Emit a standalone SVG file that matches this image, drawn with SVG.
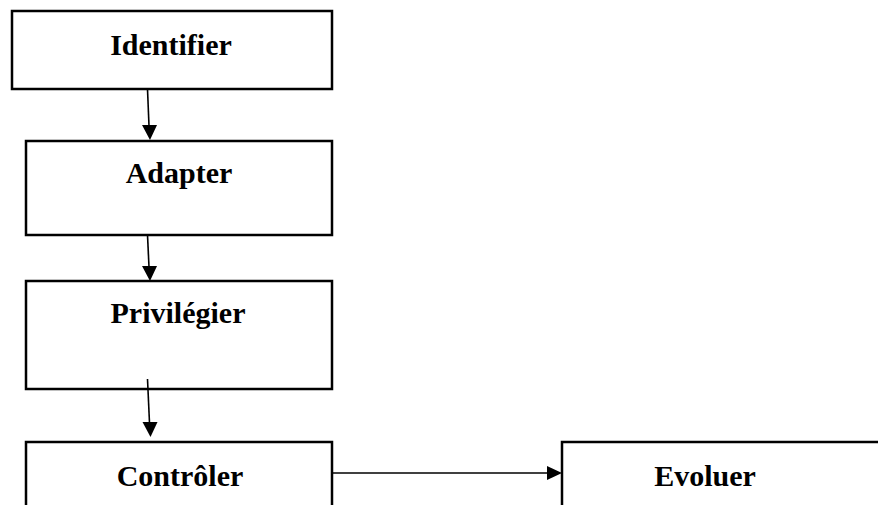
<svg xmlns="http://www.w3.org/2000/svg" width="878" height="505" viewBox="0 0 878 505">
<style>
.box{fill:#fff;stroke:#000;stroke-width:2.5}
.lbl{font-family:"Liberation Serif","Times New Roman",serif;font-weight:bold;font-size:30px;fill:#000;text-anchor:middle}
.conn{stroke:#000;stroke-width:1.6;fill:none}
.head{fill:#000}
</style>
<rect width="878" height="505" fill="#fff"/>
<g id="identifier"><rect class="box" x="12" y="11" width="320" height="78"/><text class="lbl" x="171" y="55">Identifier</text></g>
<g id="adapter"><rect class="box" x="26" y="141" width="306" height="94"/><text class="lbl" x="179" y="183">Adapter</text></g>
<g id="privilegier"><rect class="box" x="26" y="281" width="306" height="108"/><text class="lbl" x="178" y="323">Privilégier</text></g>
<g id="controler"><rect class="box" x="26" y="442" width="306" height="80"/><text class="lbl" x="180" y="486">Contrôler</text></g>
<g id="evoluer"><rect class="box" x="562" y="442" width="340" height="80"/><text class="lbl" x="705" y="486">Evoluer</text></g>
<g id="connectors">
<line class="conn" x1="147.5" y1="89" x2="149" y2="126"/><polygon class="head" points="142,125 157,125 150,140"/>
<line class="conn" x1="147.5" y1="235" x2="149" y2="267"/><polygon class="head" points="142,266 157,266 150,281"/>
<line class="conn" x1="147.5" y1="379" x2="149.5" y2="423"/><polygon class="head" points="142.5,422 157.5,422 150.5,437"/>
<line class="conn" x1="332" y1="473" x2="548" y2="473"/><polygon class="head" points="547,466 547,480 562,473"/>
</g>
</svg>
